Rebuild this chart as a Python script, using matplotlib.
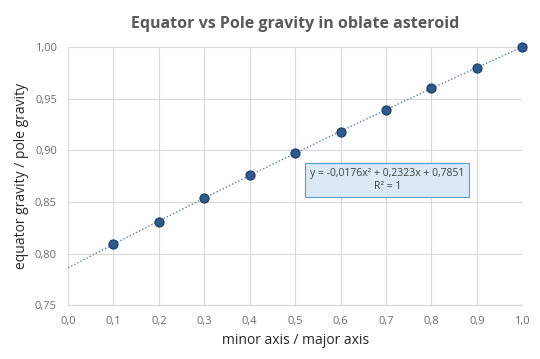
import matplotlib
matplotlib.use("Agg")
import matplotlib.pyplot as plt
import numpy as np

# data
ratio = [0.1, 0.2, 0.3, 0.4, 0.5, 0.6, 0.7, 0.8, 0.9, 1.0]
gravity_ratio = [0.809, 0.831, 0.854, 0.876, 0.897, 0.918, 0.939, 0.960, 0.980, 1.000]
x_ticks = [0.0, 0.1, 0.2, 0.3, 0.4, 0.5, 0.6, 0.7, 0.8, 0.9, 1.0]
y_ticks = [0.75, 0.80, 0.85, 0.90, 0.95, 1.00]
fit_text = "y = -0,0176x² + 0,2323x + 0,7851\nR² = 1"

plt.rcParams["font.family"] = ["Open Sans", "DejaVu Sans"]

fig = plt.figure(figsize=(5.4, 3.59), dpi=100)
ax = fig.add_axes([0.126, 0.150, 0.841, 0.719])

# polynomial trendline through the points
coef = np.polyfit(ratio, gravity_ratio, 2)
xs = np.linspace(0, 1, 100)
ax.plot(xs, np.polyval(coef, xs), linestyle=(0, (1, 1.5)), color="#5b7fa8", linewidth=1.0, zorder=2)

ax.scatter(ratio, gravity_ratio, s=42, color="#2e5a8c", edgecolor="#1f3f66", linewidth=0.9,
           zorder=3, clip_on=False)

ax.set_xlim(0, 1)
ax.set_ylim(0.75, 1.0)
ax.set_xticks(x_ticks)
ax.set_yticks(y_ticks)
ax.set_xticklabels([f"{v:.1f}".replace(".", ",") for v in x_ticks])
ax.set_yticklabels([f"{v:.2f}".replace(".", ",") for v in y_ticks])
ax.tick_params(length=0, labelsize=8, colors="#6b6b6b", pad=8)
ax.grid(True, color="#d9d9d9", linewidth=0.8)
ax.set_axisbelow(True)
for side in ["top", "right", "left"]:
    ax.spines[side].set_visible(False)
ax.spines["bottom"].set_color("#d9d9d9")

ax.set_xlabel("minor axis / major axis", fontsize=10, color="#262626")
ax.set_ylabel("equator gravity / pole gravity", fontsize=10, color="#262626")
ax.set_title("Equator vs Pole gravity in oblate asteroid", fontsize=11.5, fontweight="bold",
             color="#595959", pad=14)

ax.text(0.703, 0.871, fit_text, fontsize=7.5, color="#404040", ha="center", va="center",
        linespacing=1.3,
        bbox=dict(boxstyle="square,pad=0.45", facecolor="#dbe9f6", edgecolor="#5b9bd5", linewidth=0.8))

fig.savefig("out.png", dpi=100)
